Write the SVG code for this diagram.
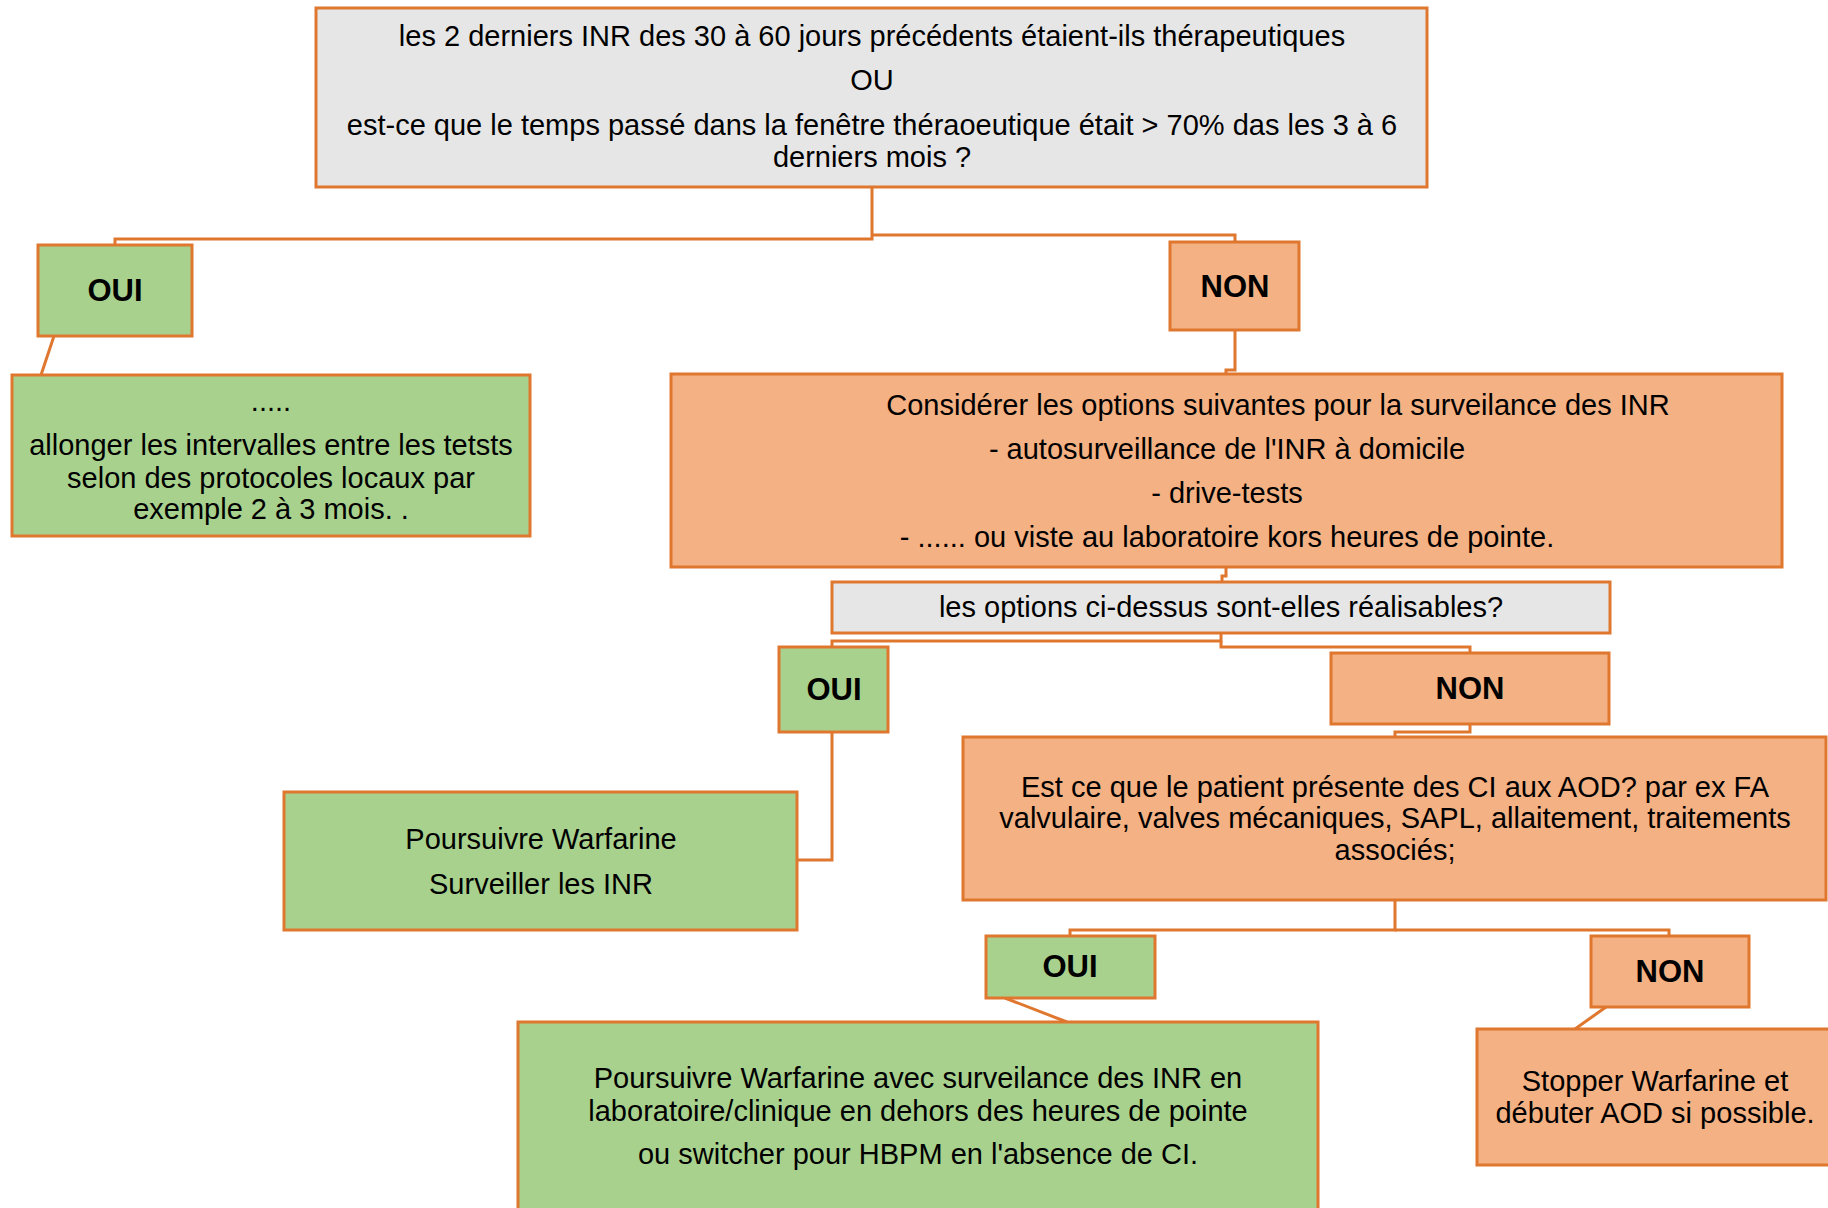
<svg xmlns="http://www.w3.org/2000/svg" width="1828" height="1208" viewBox="0 0 1828 1208">
<style>
.box{stroke:#E0772F;stroke-width:3}
.gray{fill:#E6E6E6}
.green{fill:#A9D18E}
.orange{fill:#F4B183}
.t{font-family:"Liberation Sans",Arial,sans-serif;font-size:29px;fill:#000;text-anchor:middle}
.b{font-family:"Liberation Sans",Arial,sans-serif;font-size:31px;font-weight:bold;fill:#000;text-anchor:middle}
.c{fill:none;stroke:#E0772F;stroke-width:3}
</style>
<rect width="1828" height="1208" fill="#fff"/>
<g id="connectors">
<polyline class="c" points="872,187 872,239 115,239 115,245"/>
<polyline class="c" points="872,235 1235,235 1235,242"/>
<line class="c" x1="54" y1="336" x2="41" y2="375"/>
<polyline class="c" points="1235,330 1235,370 1226,370 1226,374"/>
<polyline class="c" points="1226,567 1226,576 1222,576 1222,582"/>
<polyline class="c" points="1221,633 1221,641 832,641 832,647"/>
<polyline class="c" points="1221,641 1221,647 1470,647 1470,653"/>
<polyline class="c" points="832,732 832,860 797,860"/>
<polyline class="c" points="1470,724 1470,732 1395,732 1395,737"/>
<polyline class="c" points="1395,900 1395,930 1070,930 1070,936"/>
<polyline class="c" points="1395,930 1669,930 1669,936"/>
<line class="c" x1="1005" y1="998" x2="1067" y2="1022"/>
<line class="c" x1="1606" y1="1007" x2="1575" y2="1029"/>
</g>
<g id="q1">
<rect class="box gray" x="316" y="8" width="1111" height="179"/>
<text class="t" x="872" y="46">les 2 derniers INR des 30 à 60 jours précédents étaient-ils thérapeutiques</text>
<text class="t" x="872" y="90">OU</text>
<text class="t" x="872" y="135">est-ce que le temps passé dans la fenêtre théraoeutique était &gt; 70% das les 3 à 6</text>
<text class="t" x="872" y="167">derniers mois ?</text>
</g>
<g id="oui1">
<rect class="box green" x="38" y="245" width="154" height="91"/>
<text class="b" x="115" y="301">OUI</text>
</g>
<g id="non1">
<rect class="box orange" x="1170" y="242" width="129" height="88"/>
<text class="b" x="1235" y="297">NON</text>
</g>
<g id="action1">
<rect class="box green" x="12" y="375" width="518" height="161"/>
<text class="t" x="271" y="411">.....</text>
<text class="t" x="271" y="455">allonger les intervalles entre les tetsts</text>
<text class="t" x="271" y="488">selon des protocoles locaux par</text>
<text class="t" x="271" y="519">exemple 2 à 3 mois. .</text>
</g>
<g id="options">
<rect class="box orange" x="671" y="374" width="1111" height="193"/>
<text class="t" x="1278" y="415">Considérer les options suivantes pour la surveilance des INR</text>
<text class="t" x="1227" y="459">- autosurveillance de l'INR à domicile</text>
<text class="t" x="1227" y="503">- drive-tests</text>
<text class="t" x="1227" y="547">- ...... ou viste au laboratoire kors heures de pointe.</text>
</g>
<g id="q2">
<rect class="box gray" x="832" y="582" width="778" height="51"/>
<text class="t" x="1221" y="617">les options ci-dessus sont-elles réalisables?</text>
</g>
<g id="oui2">
<rect class="box green" x="779" y="647" width="109" height="85"/>
<text class="b" x="834" y="700">OUI</text>
</g>
<g id="non2">
<rect class="box orange" x="1331" y="653" width="278" height="71"/>
<text class="b" x="1470" y="699">NON</text>
</g>
<g id="action2">
<rect class="box green" x="284" y="792" width="513" height="138"/>
<text class="t" x="541" y="849">Poursuivre Warfarine</text>
<text class="t" x="541" y="894">Surveiller les INR</text>
</g>
<g id="q3">
<rect class="box orange" x="963" y="737" width="863" height="163"/>
<text class="t" x="1395" y="797">Est ce que le patient présente des CI aux AOD? par ex FA</text>
<text class="t" x="1395" y="828">valvulaire, valves mécaniques, SAPL, allaitement, traitements</text>
<text class="t" x="1395" y="860">associés;</text>
</g>
<g id="oui3">
<rect class="box green" x="986" y="936" width="169" height="62"/>
<text class="b" x="1070" y="977">OUI</text>
</g>
<g id="non3">
<rect class="box orange" x="1591" y="936" width="158" height="71"/>
<text class="b" x="1670" y="982">NON</text>
</g>
<g id="action3">
<rect class="box green" x="518" y="1022" width="800" height="200"/>
<text class="t" x="918" y="1088">Poursuivre Warfarine avec surveilance des INR en</text>
<text class="t" x="918" y="1121">laboratoire/clinique en dehors des heures de pointe</text>
<text class="t" x="918" y="1164">ou switcher pour HBPM en l'absence de CI.</text>
</g>
<g id="action4">
<rect class="box orange" x="1477" y="1029" width="360" height="136"/>
<text class="t" x="1655" y="1091">Stopper Warfarine et</text>
<text class="t" x="1655" y="1123">débuter AOD si possible.</text>
</g>
</svg>
